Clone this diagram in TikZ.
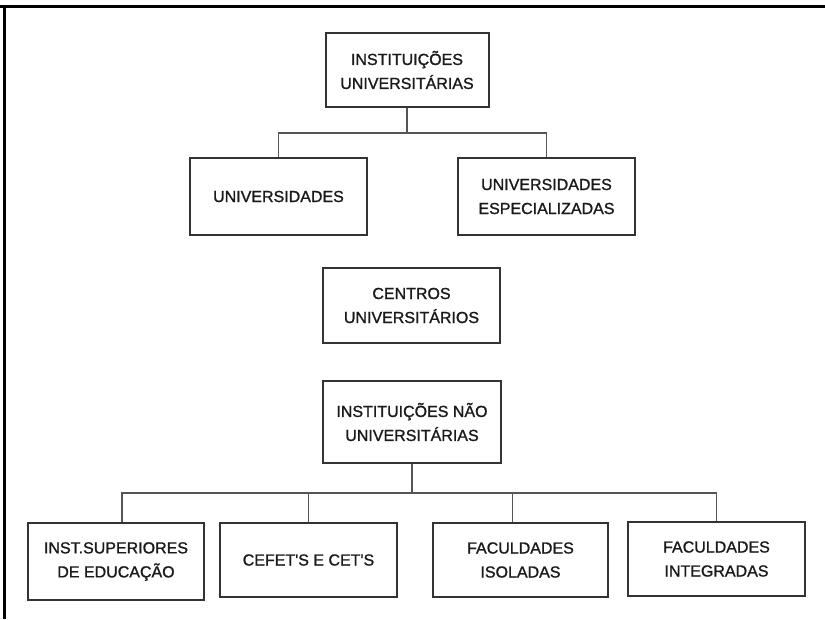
\documentclass[tikz,border=0pt]{standalone}
\usepackage{fontspec}
\setmainfont{Liberation Sans}
\newfontfamily\boxfont[FakeBold=1.2]{Liberation Sans}
\definecolor{boxline}{HTML}{333333}
\definecolor{linkline}{HTML}{555555}
\definecolor{inktext}{HTML}{1A1A1A}
\begin{document}
\begin{tikzpicture}[x=1pt,y=-1pt,
    inst/.style={draw=boxline, line width=2pt, align=center, text=inktext,
      font=\boxfont\fontsize{16}{24}\selectfont, minimum width=177pt, minimum height=76pt, inner sep=2pt},
    link/.style={draw=linkline, line width=1.1pt}]
  \useasboundingbox (0,0) rectangle (825,619);
  % frame
  \draw[line width=3pt] (0,6.5) -- (825,6.5);
  \draw[line width=3pt] (4.5,6.5) -- (4.5,619);

  % upper tree
  \node (top) [inst, minimum width=163pt, minimum height=74pt] at (407,70) {INSTITUIÇÕES\\UNIVERSITÁRIAS};
  \node (univ) [inst, minimum height=77pt] at (278.5,196.5) {UNIVERSIDADES};
  \node (esp) [inst, minimum height=77pt] at (546.5,196.5) {UNIVERSIDADES\\ESPECIALIZADAS};
  \coordinate (j1) at (407,133);
  \draw[link] (top.south) -- (j1);
  \draw[link] (univ.north) |- (j1) -| (esp.north);

  \node (centros) [inst, minimum height=75pt] at (411.5,305.5) {CENTROS\\UNIVERSITÁRIOS};

  % lower tree
  \node (nao) [inst, minimum width=178pt, minimum height=82pt] at (412,422) {INSTITUIÇÕES NÃO\\UNIVERSITÁRIAS};
  \node (ise) [inst, minimum width=176pt, minimum height=77pt] at (116,561.5) {INST.SUPERIORES\\DE EDUCAÇÃO};
  \node (cefet) [inst, minimum height=74pt] at (308.5,560) {CEFET'S E CET'S};
  \node (isol) [inst, minimum width=175pt, minimum height=74pt] at (520.5,560) {FACULDADES\\ISOLADAS};
  \node (integ) [inst, minimum height=74pt] at (716.5,559) {FACULDADES\\INTEGRADAS};
  \coordinate (j2) at (412,493);
  \draw[link] (nao.south) -- (j2);
  \draw[link] ([xshift=6pt]ise.north) |- (j2) -| (integ.north);
  \draw[link] (cefet.north) -- (cefet.north |- j2);
  \draw[link] ([xshift=-8pt]isol.north) -- ([xshift=-8pt]isol.north |- j2);
\end{tikzpicture}
\end{document}
